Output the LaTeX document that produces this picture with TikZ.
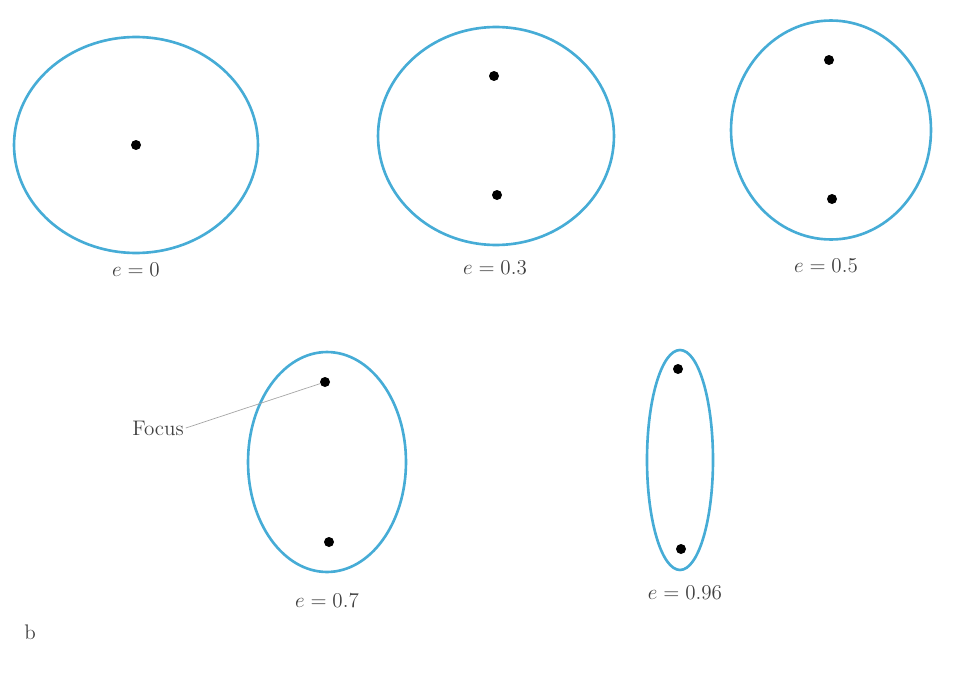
\documentclass[tikz,border=0pt]{standalone}
\usepackage{tikz}
\usetikzlibrary{shapes.geometric}
\definecolor{orbitblue}{RGB}{70,172,214}
\tikzset{
  orbit/.style={draw=orbitblue, ellipse, line width=1.5pt, inner sep=0pt},
  focus/.style={circle, fill=black, inner sep=0pt, minimum size=0.2cm},
  ecclabel/.style={font=\large, color=black!75, inner sep=1pt},
  pointer/.style={draw=gray!70, line width=0.4pt}
}
\begin{document}
\begin{tikzpicture}[x=0.02cm, y=-0.02cm]
\useasboundingbox (0,0) rectangle (963,686);

% Top row
\node[orbit, minimum width=4.88cm, minimum height=4.32cm] (o1) at (136,145) {};
\node[focus] (f1) at (136,145) {};
\node[ecclabel] (l1) at (136,270) {$e = 0$};

\node[orbit, minimum width=4.72cm, minimum height=4.36cm] (o2) at (496,136) {};
\node[focus] (f2a) at (494,76) {};
\node[focus] (f2b) at (497,195) {};
\node[ecclabel] (l2) at (495,268) {$e = 0.3$};

\node[orbit, minimum width=4.0cm, minimum height=4.38cm] (o3) at (831,130) {};
\node[focus] (f3a) at (829,60) {};
\node[focus] (f3b) at (832,199) {};
\node[ecclabel] (l3) at (826,266) {$e = 0.5$};

% Bottom row
\node[orbit, minimum width=3.16cm, minimum height=4.4cm] (o4) at (327,462) {};
\node[focus] (f4a) at (325,382) {};
\node[focus] (f4b) at (329,542) {};
\node[ecclabel] (l4) at (327,601) {$e = 0.7$};

\node[orbit, minimum width=1.32cm, minimum height=4.4cm] (o5) at (680,460) {};
\node[focus] (f5a) at (678,369) {};
\node[focus] (f5b) at (681,549) {};
\node[ecclabel] (l5) at (685,593) {$e = 0.96$};

% Focus pointer
\node[ecclabel] (focuslbl) at (158,428) {Focus};
\draw[pointer] (focuslbl.east) -- (f4a);

% Panel letter
\node[ecclabel] (panel) at (30,632) {b};

\end{tikzpicture}
\end{document}
